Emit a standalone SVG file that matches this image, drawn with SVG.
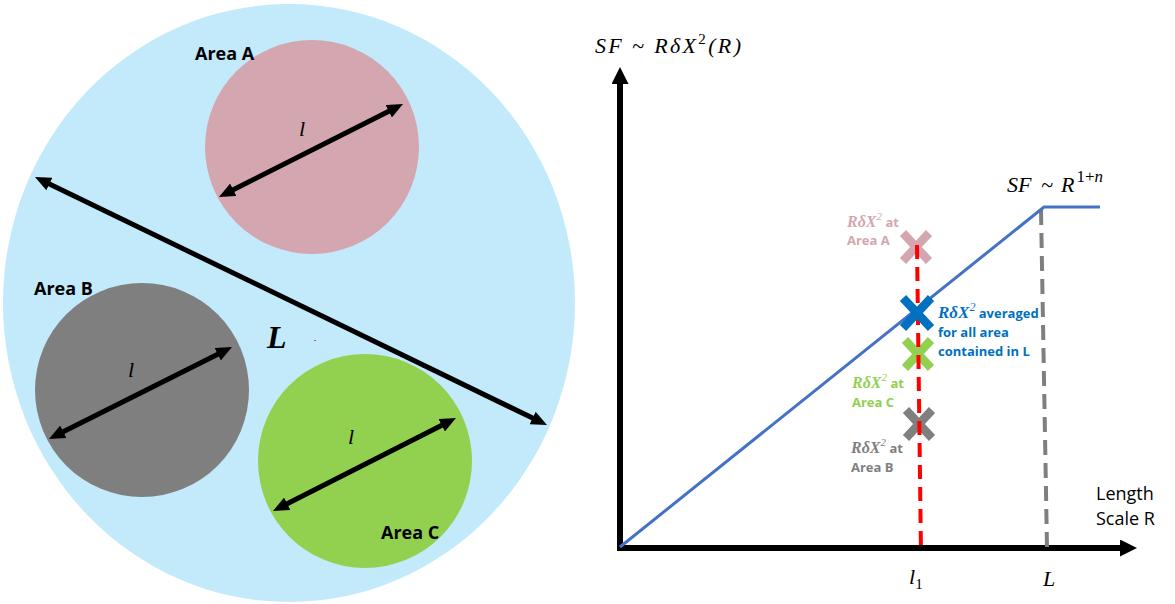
<svg xmlns="http://www.w3.org/2000/svg" width="1175" height="604" viewBox="0 0 1175 604">
<style>
.lbl{font-family:"Open Sans","Liberation Sans",sans-serif;font-weight:bold}
.math{font-family:"Liberation Serif","DejaVu Serif",serif;font-style:italic}
.arr{stroke:#000;stroke-width:5;fill:none;marker-start:url(#ah);marker-end:url(#ah)}
.axis{stroke:#000;stroke-width:6;fill:none;marker-end:url(#axh)}
.xm{stroke-width:8.5;stroke-linecap:butt;fill:none}
</style>
<defs>
<marker id="ah" viewBox="0 0 16 14" refX="4" refY="7" markerWidth="16" markerHeight="14" markerUnits="userSpaceOnUse" orient="auto-start-reverse">
<path d="M0,0 L16,7 L0,14 z" fill="#000"/>
</marker>
<marker id="axh" viewBox="0 0 17 17" refX="3" refY="8.5" markerWidth="17" markerHeight="17" markerUnits="userSpaceOnUse" orient="auto">
<path d="M0,0 L17,8.5 L0,17 z" fill="#000"/>
</marker>
</defs>
<rect width="1175" height="604" fill="#fff"/>

<g id="region-L">
<ellipse cx="289" cy="303" rx="286" ry="299" fill="#c2eafa"/>
<text class="math" x="267" y="348" font-size="32" font-weight="bold">L</text>
<rect x="314" y="340" width="2" height="1" fill="#ff4040"/>
</g>

<g id="area-a">
<circle cx="312" cy="147" r="107" fill="#d4a6b0"/>
<text class="lbl" x="195" y="60" font-size="18">Area A</text>
<text class="math" x="299" y="136" font-size="22">l</text>
</g>

<g id="area-b">
<circle cx="142" cy="390" r="107" fill="#7f7f7f"/>
<text class="lbl" x="34" y="295" font-size="18">Area B</text>
<text class="math" x="128" y="377" font-size="22">l</text>
</g>

<g id="area-c">
<circle cx="365" cy="461" r="107" fill="#92d050"/>
<text class="lbl" x="381" y="539" font-size="18">Area C</text>
<text class="math" x="348" y="444" font-size="22">l</text>
</g>

<g id="connectors">
<line class="arr" x1="229.7" y1="191.6" x2="392.3" y2="109.4"/>
<line class="arr" x1="59.7" y1="433.6" x2="221.3" y2="352.4"/>
<line class="arr" x1="283.7" y1="505.6" x2="445.3" y2="423.4"/>
<line class="arr" x1="45.8" y1="182.2" x2="536.2" y2="419.8"/>
</g>

<g id="chart-axes">
<line class="axis" x1="620" y1="551" x2="620" y2="81"/>
<line class="axis" x1="617" y1="548" x2="1123" y2="548"/>
<text class="math" x="595" y="53" font-size="22" textLength="146" lengthAdjust="spacing">SF ~ RδX<tspan font-size="15" font-style="normal" dy="-9">2</tspan><tspan dy="9">(R)</tspan></text>
<text font-family="Open Sans, Liberation Sans, sans-serif" font-size="18" x="1096" y="500">Length</text>
<text font-family="Open Sans, Liberation Sans, sans-serif" font-size="18" x="1096" y="525">Scale R</text>
<text class="math" x="909" y="584" font-size="22">l<tspan font-size="15" font-style="normal" dy="5">1</tspan></text>
<text class="math" x="1043" y="586" font-size="22">L</text>
</g>

<g id="ref-lines">
<line x1="1041" y1="210" x2="1047" y2="548" stroke="#7f7f7f" stroke-width="4" stroke-dasharray="15 8"/>
</g>

<g id="curve">
<polyline points="620,547 1044,207 1100,207" fill="none" stroke="#4472c4" stroke-width="3"/>
<text class="math" x="1007" y="192" font-size="22">SF<tspan x="1041">~</tspan><tspan x="1061">R</tspan><tspan font-size="17" font-style="normal" dy="-10" dx="2">1+</tspan><tspan font-size="17">n</tspan></text>
</g>

<g id="mark-a">
<path class="xm" d="M903,233 L929,261 M929,233 L903,261" stroke="#d4a6b0"/>
<text x="847" y="227" font-size="16" fill="#d4a6b0"><tspan class="math" font-weight="bold">RδX</tspan><tspan class="math" font-style="normal" font-size="11" dy="-7">2</tspan><tspan class="lbl" font-size="13" dy="7"> at</tspan></text>
<text class="lbl" x="847" y="245" font-size="13" fill="#d4a6b0">Area A</text>
</g>

<g id="mark-c">
<path class="xm" d="M905,340 L931,368 M931,340 L905,368" stroke="#92d050"/>
<text x="852" y="388" font-size="16" fill="#92d050"><tspan class="math" font-weight="bold">RδX</tspan><tspan class="math" font-style="normal" font-size="11" dy="-7">2</tspan><tspan class="lbl" font-size="13" dy="7"> at</tspan></text>
<text class="lbl" x="852" y="407" font-size="13" fill="#92d050">Area C</text>
</g>

<g id="mark-b">
<path class="xm" d="M906,410 L932,438 M932,410 L906,438" stroke="#7f7f7f"/>
<text x="851" y="453" font-size="16" fill="#7f7f7f"><tspan class="math" font-weight="bold">RδX</tspan><tspan class="math" font-style="normal" font-size="11" dy="-7">2</tspan><tspan class="lbl" font-size="13" dy="7"> at</tspan></text>
<text class="lbl" x="851" y="472" font-size="13" fill="#7f7f7f">Area B</text>
</g>

<g id="red-line">
<line x1="917" y1="245" x2="921" y2="552" stroke="#ff0000" stroke-width="4" stroke-dasharray="14 8"/>
</g>

<g id="mark-avg">
<path class="xm" d="M903,298 L931,328 M931,298 L903,328" stroke="#0070c0"/>
<text x="938" y="318" font-size="17" fill="#0070c0"><tspan class="math" font-weight="bold">RδX</tspan><tspan class="math" font-style="normal" font-size="12" dy="-7">2</tspan><tspan class="lbl" font-size="13" dy="7"> averaged</tspan></text>
<text class="lbl" x="938" y="337" font-size="13" fill="#0070c0">for all area</text>
<text class="lbl" x="938" y="356" font-size="13" fill="#0070c0">contained in L</text>
</g>
</svg>
